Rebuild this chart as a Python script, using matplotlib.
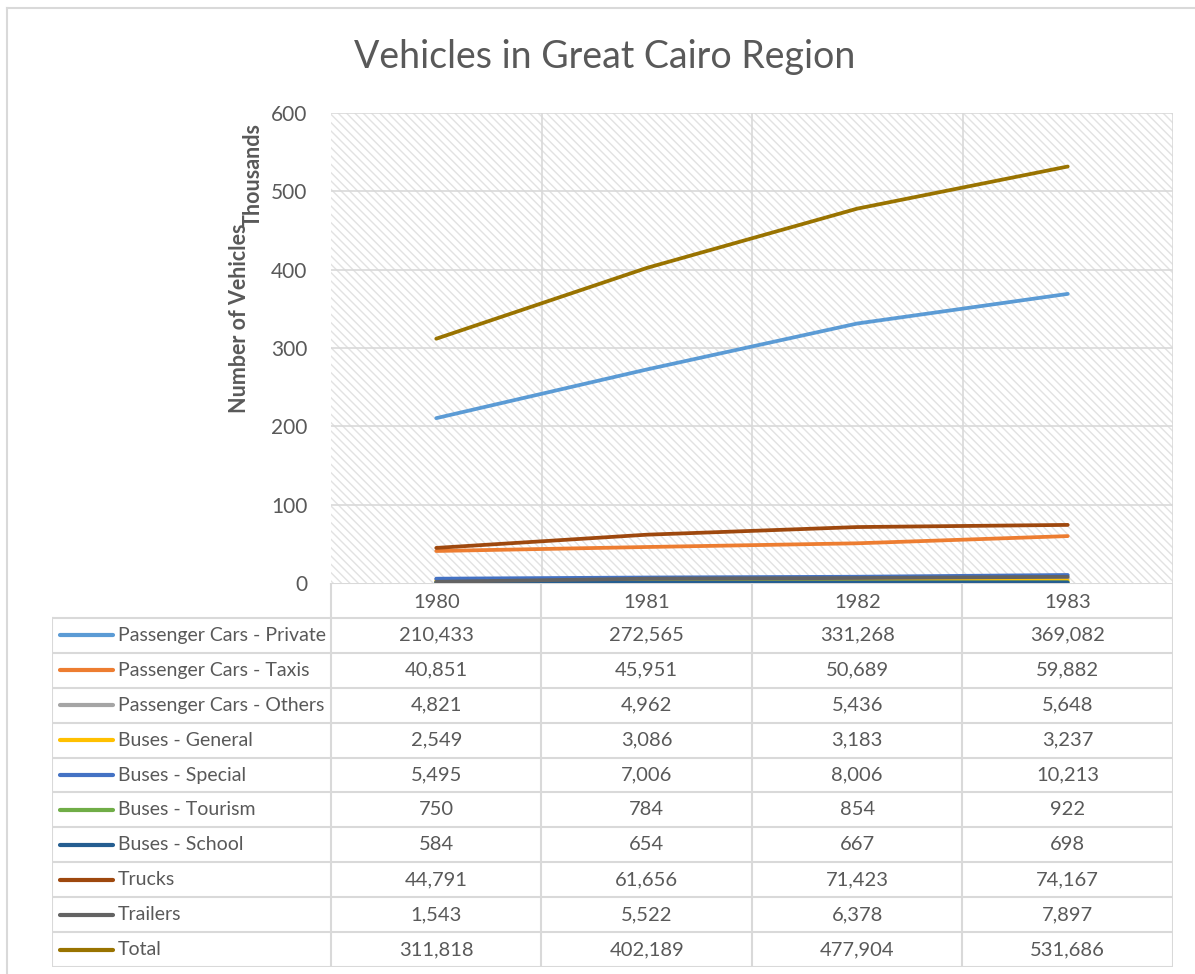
import matplotlib
matplotlib.use('Agg')
import matplotlib.pyplot as plt
from matplotlib.patches import Rectangle
from matplotlib.lines import Line2D

plt.rcParams['font.family'] = ['Lato', 'DejaVu Sans']
plt.rcParams['hatch.linewidth'] = 1.0

# data
years = ['1980', '1981', '1982', '1983']
series_names = ['Passenger Cars - Private', 'Passenger Cars - Taxis', 'Passenger Cars - Others',
                'Buses - General', 'Buses - Special', 'Buses - Tourism', 'Buses - School',
                'Trucks', 'Trailers', 'Total']
private = [210433, 272565, 331268, 369082]
taxis = [40851, 45951, 50689, 59882]
others = [4821, 4962, 5436, 5648]
bus_general = [2549, 3086, 3183, 3237]
bus_special = [5495, 7006, 8006, 10213]
bus_tourism = [750, 784, 854, 922]
bus_school = [584, 654, 667, 698]
trucks = [44791, 61656, 71423, 74167]
trailers = [1543, 5522, 6378, 7897]
total = [311818, 402189, 477904, 531686]
yticks = [0, 100, 200, 300, 400, 500, 600]

series = [private, taxis, others, bus_general, bus_special, bus_tourism, bus_school,
          trucks, trailers, total]
colors = ['#5B9BD5', '#ED7D31', '#A5A5A5', '#FFC000', '#4472C4', '#70AD47', '#255E91',
          '#9E480E', '#636363', '#997300']

W, H = 1195, 974
grid_c = '#d9d9d9'
text_c = '#595959'

fig = plt.figure(figsize=(W / 100, H / 100), dpi=100)

def fx(px):
    return px / W

def fy(py):
    return 1 - py / H

# outer chart frame
fig.add_artist(Line2D([fx(7), fx(7)], [fy(8), 0], color=grid_c, lw=1.5))
fig.add_artist(Line2D([fx(7), 1], [fy(8), fy(8)], color=grid_c, lw=1.5))

# plot area
left, right, top, bottom = 331, 1173, 113, 583
ax = fig.add_axes([fx(left), fy(bottom), fx(right - left), fy(top) - fy(bottom)])
x = list(range(len(years)))
ax.set_xlim(-0.5, len(years) - 0.5)
ax.set_ylim(0, 600)

ax.add_patch(Rectangle((0, 0), 1, 1, transform=ax.transAxes, facecolor='white',
                       edgecolor='#e2e2e2', hatch='\\\\\\\\', lw=0, zorder=0))
for yv in yticks[1:]:
    ax.axhline(yv, color=grid_c, lw=1.2, zorder=1)
for xv in [0.5, 1.5, 2.5, 3.5]:
    ax.axvline(xv, color=grid_c, lw=1.2, zorder=1)
for s in ax.spines.values():
    s.set_visible(False)

for vals, c in zip(series, colors):
    ax.plot(x, [v / 1000 for v in vals], color=c, lw=2.7, solid_capstyle='round', zorder=3)

ax.set_xticks([])
ax.set_yticks(yticks)
ax.set_yticklabels([str(t) for t in yticks], fontsize=15, color=text_c)
ax.tick_params(axis='y', length=0, pad=17)

fig.text(fx(239), fy(318), 'Number of Vehicles', rotation=90, ha='center', va='center',
         fontsize=15.5, fontweight='bold', color=text_c)
fig.text(fx(253), fy(175), 'Thousands', rotation=90, ha='center', va='center',
         fontsize=15.5, fontweight='bold', color=text_c)

fig.text(fx(605), fy(57), 'Vehicles in Great Cairo Region', ha='center', va='center',
         fontsize=27, color=text_c)

# data table
tab_left = 52
tab_bottom = 967
n_rows = len(series_names) + 1
px_per_unit = (right - left) / len(years)
lab_x0 = -0.5 - (left - tab_left) / px_per_unit
tab = fig.add_axes([fx(tab_left), fy(tab_bottom), fx(right - tab_left), fy(bottom) - fy(tab_bottom)])
tab.set_xlim(lab_x0, len(years) - 0.5)
tab.set_ylim(n_rows, 0)
tab.axis('off')

for xv in [-0.5, 0.5, 1.5, 2.5, 3.5]:
    tab.plot([xv, xv], [0, n_rows], color=grid_c, lw=1.5, solid_capstyle='butt')
tab.plot([lab_x0, lab_x0], [1, n_rows], color=grid_c, lw=1.5)
tab.plot([-0.5, len(years) - 0.5], [0, 0], color=grid_c, lw=1.5)
for r in range(1, n_rows + 1):
    tab.plot([lab_x0, len(years) - 0.5], [r, r], color=grid_c, lw=1.5)

for i, yr in enumerate(years):
    tab.text(i, 0.55, yr, ha='center', va='center', fontsize=14.5, color=text_c)

key_x0 = lab_x0 + 8 / px_per_unit
key_x1 = lab_x0 + 61 / px_per_unit
for r, (name, vals, c) in enumerate(zip(series_names, series, colors)):
    yc = r + 1.5
    tab.plot([key_x0, key_x1], [yc, yc], color=c, lw=3, solid_capstyle='round')
    tab.text(key_x1 + 5 / px_per_unit, yc, name, ha='left', va='center', fontsize=14,
             color=text_c)
    for i, v in enumerate(vals):
        tab.text(i, yc, f'{v:,}', ha='center', va='center', fontsize=14.5, color=text_c)

fig.savefig('out.png', dpi=100)
